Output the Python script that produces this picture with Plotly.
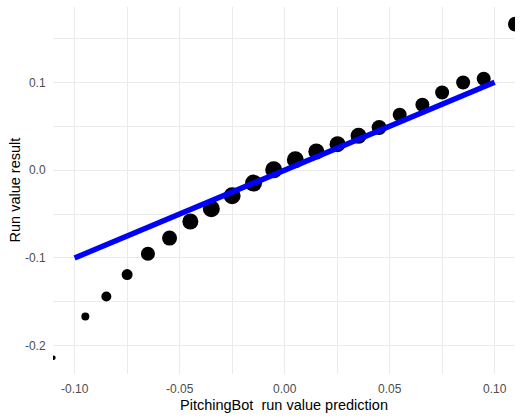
import plotly.graph_objects as go
import numpy as np

# Binned PitchingBot predictions vs. actual run value
pred_bin = [-0.1101, -0.0949, -0.0849, -0.0750, -0.0651, -0.0548, -0.0449, -0.0349,
            -0.0250, -0.0148, -0.0052, 0.0051, 0.0151, 0.0252, 0.0352, 0.0450,
            0.0548, 0.0656, 0.0750, 0.0850, 0.0948, 0.1099]
actual_rv = [-0.2138, -0.1667, -0.1440, -0.1190, -0.0953, -0.0774, -0.0585, -0.0441,
             -0.0293, -0.0148, 0.0003, 0.0117, 0.0212, 0.0296, 0.0391, 0.0485,
             0.0630, 0.0744, 0.0884, 0.0998, 0.1040, 0.1663]
# relative pitch counts per bin (point area)
bin_count = [20, 64, 100, 121, 196, 225, 256, 289, 289, 289, 289, 289, 256, 256,
             256, 225, 196, 196, 196, 196, 196, 225]

# y = x reference line
ref_x = [-0.10, 0.10]
ref_y = [-0.10, 0.10]

x_ticks = [-0.10, -0.05, 0.00, 0.05, 0.10]
x_labels = ["-0.10", "-0.05", "0.00", "0.05", "0.10"]
y_ticks = [-0.2, -0.1, 0.0, 0.1]
y_labels = ["-0.2", "-0.1", "0.0", "0.1"]

diam = np.sqrt(np.array(bin_count, dtype=float))

fig = go.Figure()
fig.add_trace(go.Scatter(
    x=pred_bin, y=actual_rv, mode="markers",
    marker=dict(color="black", size=diam, sizemode="diameter", opacity=1,
                line=dict(width=0)),
    showlegend=False, hoverinfo="x+y"))
fig.add_trace(go.Scatter(
    x=ref_x, y=ref_y, mode="lines",
    line=dict(color="#0000FF", width=5.5), showlegend=False))

tickfont = dict(family="Liberation Sans, Arial, sans-serif", size=12, color="#4D4D4D")
fig.update_layout(
    width=523, height=420,
    margin=dict(l=53, r=8, t=7, b=46),
    paper_bgcolor="white", plot_bgcolor="white",
    font=dict(family="Liberation Sans, Arial, sans-serif"),
    xaxis=dict(range=[-0.1103, 0.1097], tickvals=x_ticks, ticktext=x_labels,
               showgrid=True, gridcolor="#EBEBEB", gridwidth=1.1,
               minor=dict(tickvals=[-0.075, -0.025, 0.025, 0.075], showgrid=True,
                          gridcolor="#EBEBEB", gridwidth=0.6),
               zeroline=False, showline=False, ticks="outside", ticklen=4,
               tickcolor="rgba(0,0,0,0)", tickfont=tickfont, automargin=False),
    yaxis=dict(range=[-0.2322, 0.1858], tickvals=y_ticks, ticktext=y_labels,
               showgrid=True, gridcolor="#EBEBEB", gridwidth=1.1,
               minor=dict(tickvals=[-0.15, -0.05, 0.05, 0.15], showgrid=True,
                          gridcolor="#EBEBEB", gridwidth=0.6),
               zeroline=False, showline=False, ticks="outside", ticklen=4,
               tickcolor="rgba(0,0,0,0)", tickfont=tickfont, automargin=False),
    annotations=[
        dict(text="PitchingBot  run value prediction", xref="paper", yref="paper",
             x=0.5, y=-0.0845, xanchor="center", yanchor="middle", showarrow=False,
             font=dict(family="Liberation Sans, Arial, sans-serif", size=14.5, color="black")),
        dict(text="Run value result", xref="paper", yref="paper",
             x=(14 - 53) / 462, y=0.5, xanchor="center", yanchor="middle", textangle=-90,
             showarrow=False,
             font=dict(family="Liberation Sans, Arial, sans-serif", size=14.5, color="black")),
    ],
)
fig.write_html("out.html", config={"displayModeBar": False},
               post_script="document.body.style.margin='0';")
